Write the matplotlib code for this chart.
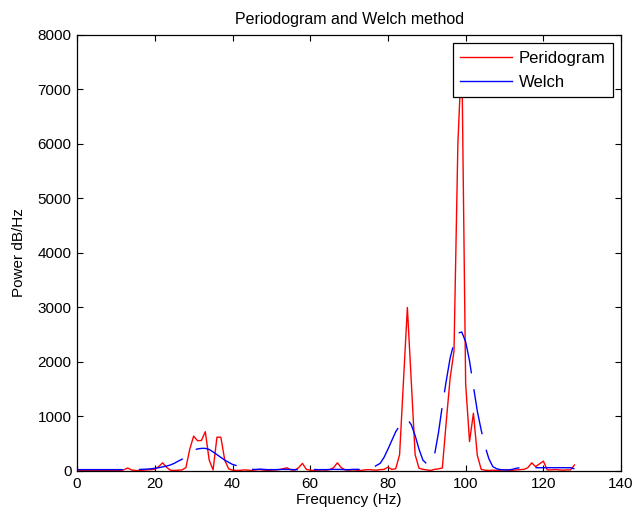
import numpy as np
import matplotlib
matplotlib.use("Agg")
import matplotlib.pyplot as plt

# ---- data ----
freq = list(range(0, 129))  # Hz

periodogram = [
    15, 10, 8, 5, 8, 10, 5, 8, 10, 5,            # 0-9
    8, 10, 20, 55, 20, 10, 8, 15, 20, 25,        # 10-19
    30, 80, 150, 70, 15, 10, 15, 20, 60, 400,    # 20-29
    640, 556, 560, 720, 200, 20, 620, 620, 200, 40,   # 30-39
    15, 10, 12, 20, 15, 10, 20, 25, 15, 10,      # 40-49
    15, 20, 25, 40, 60, 20, 15, 60, 140, 30,     # 50-59
    15, 10, 15, 20, 15, 25, 60, 150, 60, 20,     # 60-69
    15, 20, 15, 10, 20, 25, 20, 15, 25, 30,      # 70-79
    70, 30, 40, 300, 1650, 3000, 1650, 300, 50, 30,   # 80-89
    20, 10, 30, 40, 55, 900, 1700, 2200, 6000, 7700,  # 90-99
    1600, 540, 1060, 290, 30, 15, 10, 15, 10, 15,     # 100-109
    20, 15, 10, 20, 25, 30, 60, 150, 80, 130,    # 110-119
    180, 20, 20, 25, 20, 15, 20, 20, 110,        # 120-128
]

welch = [
    25, 25, 25, 25, 25, 25, 25, 25, 25, 25,      # 0-9
    25, 25, 25, 25, 25, 25, 28, 30, 35, 40,      # 10-19
    50, 60, 75, 90, 110, 140, 180, 215, 270, 330,     # 20-29
    380, 405, 415, 415, 395, 350, 300, 250, 200, 160,  # 30-39
    120, 100, 70, 50, 35, 30, 28, 35, 30, 25,    # 40-49
    25, 25, 28, 30, 30, 28, 25, 25, 28, 30,      # 50-59
    30, 28, 25, 25, 25, 28, 30, 30, 28, 25,      # 60-69
    25, 30, 30, 30, 30, 35, 50, 100, 140, 250,   # 70-79
    400, 560, 720, 830, 920, 950, 850, 650, 400, 200,  # 80-89
    130, 130, 300, 700, 1200, 1650, 2070, 2350, 2530, 2550,  # 90-99
    2370, 2020, 1550, 1100, 750, 450, 220, 80, 40, 25,  # 100-109
    20, 20, 30, 50, 60, 60, 60, 60, 60, 60,      # 110-119
    60, 60, 60, 60, 60, 60, 60, 60, 40,          # 120-128
]

xticks = [0, 20, 40, 60, 80, 100, 120, 140]
yticks = [0, 1000, 2000, 3000, 4000, 5000, 6000, 7000, 8000]

# ---- style ----
plt.rcParams['font.family'] = ['Liberation Sans', 'DejaVu Sans']
plt.rcParams['font.size'] = 11

fig = plt.figure(figsize=(6.37, 5.19), dpi=100)
ax = fig.add_axes([0.121, 0.0925, 0.854, 0.8401])

ax.plot(freq, periodogram, color='#ff0000', lw=1.0, label='Peridogram')
ax.plot(freq, welch, color='#0000ff', lw=1.0, linestyle=(0, (33, 11.5)), label='Welch')

ax.set_xlim(0, 140)
ax.set_ylim(0, 8000)
ax.set_xticks(xticks)
ax.set_yticks(yticks)
ax.tick_params(direction='in', top=True, right=True, length=4, width=0.8,
               labelsize=11, pad=4)
for s in ax.spines.values():
    s.set_linewidth(0.9)
    s.set_color('black')

ax.set_title('Periodogram and Welch method', fontsize=11.5, pad=8)
ax.set_xlabel('Frequency (Hz)', fontsize=11, labelpad=2)
ax.set_ylabel('Power dB/Hz', fontsize=11, labelpad=8)

leg = ax.legend(loc='upper right', fancybox=False, framealpha=1,
                edgecolor='black', handlelength=3.1, handletextpad=0.4,
                borderaxespad=0.5, fontsize=12, borderpad=0.45,
                labelspacing=0.55)
leg.get_frame().set_linewidth(0.9)
leg.get_lines()[1].set_linestyle('-')

fig.savefig('out.png', dpi=100)
